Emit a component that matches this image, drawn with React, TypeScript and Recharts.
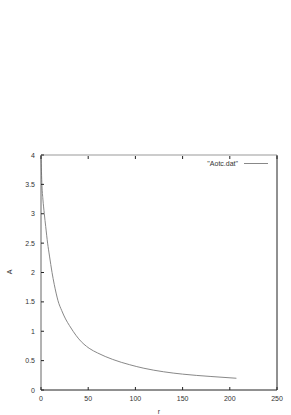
import { LineChart, Line, XAxis, YAxis, Legend } from 'recharts'

const R_VALUES = [0, 1, 2, 3.5, 5, 7, 9, 11.7, 14, 16, 18, 22, 26, 30, 34, 40, 51, 60, 76, 94, 109, 130, 150, 180, 207]
const A_VALUES = [4.0, 3.48, 3.25, 3.0, 2.78, 2.5, 2.28, 2.0, 1.8, 1.65, 1.52, 1.35, 1.21, 1.1, 1.0, 0.87, 0.71, 0.63, 0.52, 0.43, 0.37, 0.31, 0.27, 0.23, 0.2]
const X_TICKS = [0, 50, 100, 150, 200, 250]
const Y_TICKS = [0, 0.5, 1, 1.5, 2, 2.5, 3, 3.5, 4]
const SERIES_NAME = '"Aotc.dat"'

const data = R_VALUES.map((r, i) => ({ r, a: A_VALUES[i] }))

const FONT = '"Liberation Sans", Arial, sans-serif'
const TEXT = '#333'

// gnuplot style: inward ticks on all four sides
const BottomTick = ({ x, y, payload }: any) => (
  <g>
    <line x1={x} x2={x} y1={y} y2={y - 3} stroke="#222" />
    <text x={x} y={y + 10.5} textAnchor="middle" fontSize={7} fill={TEXT} fontFamily={FONT}>
      {payload.value}
    </text>
  </g>
)

const LeftTick = ({ x, y, payload }: any) => (
  <g>
    <line x1={x} x2={x + 3} y1={y} y2={y} stroke="#222" />
    <text x={x - 6} y={y + 2.5} textAnchor="end" fontSize={7} fill={TEXT} fontFamily={FONT}>
      {payload.value}
    </text>
  </g>
)

const TopTick = ({ x, y }: any) => <line x1={x} x2={x} y1={y + 1} y2={y + 4} stroke="#222" />
const RightTick = ({ x, y }: any) => <line x1={x - 1} x2={x - 4} y1={y} y2={y} stroke="#222" />

export default function App() {
  return (
    <div style={{ position: 'absolute', left: 0, top: 0 }}>
      <LineChart width={291} height={415} data={data} margin={{ top: 154, right: 13, bottom: 0, left: 0 }}>
        <XAxis
          dataKey="r"
          type="number"
          domain={[0, 250]}
          ticks={X_TICKS}
          height={25}
          tickSize={0}
          tickMargin={0}
          tickLine={false}
          axisLine={{ stroke: '#222' }}
          tick={<BottomTick />}
          label={{
            content: () => (
              <text x={159} y={414} textAnchor="middle" fontSize={7} fill={TEXT} fontFamily={FONT}>r</text>
            ),
          }}
        />
        <XAxis
          xAxisId="top"
          dataKey="r"
          type="number"
          orientation="top"
          domain={[0, 250]}
          ticks={X_TICKS}
          height={1}
          tickSize={0}
          tickMargin={0}
          tickLine={false}
          axisLine={{ stroke: '#999' }}
          tick={<TopTick />}
        />
        <YAxis
          type="number"
          domain={[0, 4]}
          ticks={Y_TICKS}
          width={41}
          tickSize={0}
          tickMargin={0}
          tickLine={false}
          axisLine={{ stroke: '#666' }}
          tick={<LeftTick />}
          label={{
            content: () => (
              <text x={12} y={272} transform="rotate(-90 12 272)" textAnchor="middle" fontSize={7} fill={TEXT} fontFamily={FONT}>A</text>
            ),
          }}
        />
        <YAxis
          yAxisId="right"
          type="number"
          orientation="right"
          domain={[0, 4]}
          ticks={Y_TICKS}
          width={1}
          tickSize={0}
          tickMargin={0}
          tickLine={false}
          axisLine={{ stroke: '#222' }}
          tick={<RightTick />}
        />
        <Legend
          layout="horizontal"
          verticalAlign="middle"
          align="center"
          wrapperStyle={{ left: 168, top: 157, width: 100, height: 12 }}
          content={() => (
            <div style={{ display: 'flex', justifyContent: 'flex-end', alignItems: 'center', height: 12, fontFamily: FONT, fontSize: 7, color: TEXT }}>
              <span>{SERIES_NAME}</span>
              <span style={{ display: 'inline-block', width: 24, marginLeft: 6, borderTop: '1px solid #888' }} />
            </div>
          )}
        />
        <Line
          type="monotone"
          dataKey="a"
          name={SERIES_NAME}
          stroke="#888"
          strokeWidth={1}
          dot={false}
          isAnimationActive={false}
        />
      </LineChart>
    </div>
  )
}
